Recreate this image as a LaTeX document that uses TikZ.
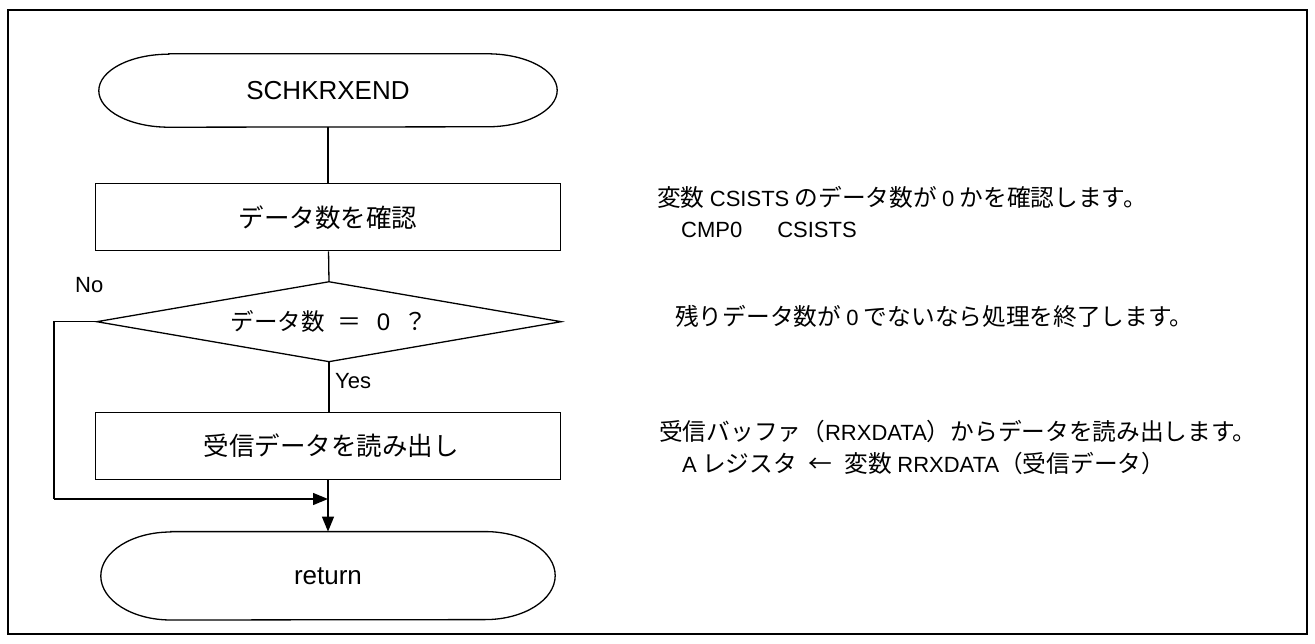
\documentclass[tikz,border=0pt]{standalone}
\usepackage{fontspec}
\setmainfont{Liberation Sans}
\newfontfamily\jp{Noto Sans CJK JP}
\newcommand\latn{\rmfamily\fontsize{22}{26}\selectfont}
\newcommand\jpn{\jp\fontsize{23.7}{28}\selectfont}
\usetikzlibrary{arrows.meta}
\newcommand\termpath[3]{%
  \draw[flowline] ([xshift=#2]#1.north west) -- ([xshift=-#2]#1.north east)
    arc[start angle=90,end angle=-90,x radius=#2pt,y radius=#3pt]
    -- ([xshift=#2]#1.south west)
    arc[start angle=270,end angle=90,x radius=#2pt,y radius=#3pt] -- cycle;}
\begin{document}
\begin{tikzpicture}[x=1pt,y=-1pt,
  flowline/.style={line width=1.3pt,draw=black},
  termbox/.style={inner sep=0pt,font=\fontsize{26}{30}\selectfont},
  procbox/.style={draw=black,line width=1.3pt,inner sep=0pt,minimum width=465pt,minimum height=67pt,font=\jp\fontsize{25.5}{30}\selectfont},
  decbox/.style={inner sep=0pt,minimum width=464pt,minimum height=79.5pt,font=\fontsize{24}{28}\selectfont},
  lbl/.style={inner sep=0pt,font=\fontsize{22}{26}\selectfont},
  note/.style={anchor=west,inner sep=0pt,font=\jpn},
  arr/.style={flowline,-{Triangle[length=15pt,width=12pt]}}]
\useasboundingbox (0,0) rectangle (1315,644);
\node[draw=black,line width=1.3pt,minimum width=1299pt,minimum height=624pt,inner sep=0pt] (frame) at (657.5,322) {};
% start terminal
\node[termbox,minimum width=458pt,minimum height=73pt] (start) at (328,90.5) {SCHKRXEND};
\termpath{start}{70}{36.5}
\node[procbox] (p1) at (328,217.3) {データ数を確認};
\node[decbox] (dec) at (329,321.7) {{\jp\fontsize{23.5}{28}\selectfont データ数}\hspace{13pt}{\jp ＝}\hspace{15pt}0\hspace{13pt}{\jp ？}};
\draw[flowline] (dec.north) -- (dec.east) -- (dec.south) -- (dec.west) -- cycle;
\node[procbox] (p2) at (328,445.8) {\hspace{6pt}受信データを読み出し};
\node[termbox,minimum width=454pt,minimum height=88pt] (ret) at (328,575.8) {return};
\termpath{ret}{70}{44}
% connectors
\draw[flowline] (start) -- (p1);
\draw[flowline] (p1) -- (dec.north);
\draw[flowline] (dec.south) -- (dec.south |- p2.north);
\coordinate (nA) at (54,321.7);
\coordinate (nB) at (54,499);
\coordinate (join) at (328,499);
\draw[flowline] (dec.west) -- (nA) -- (nB);
\draw[arr] (nB) -- (join);
\draw[arr] (p2) -- (ret);
\node[lbl,anchor=west] (no) at (75,285) {No};
\node[lbl,anchor=west] (yes) at (335,381) {Yes};
% notes
\node[note] (n1) at (657,197) {変数 {\latn CSISTS} のデータ数が {\latn 0} かを確認します。};
\node[note] (n2) at (681,230) {\latn CMP0\hspace{35pt}CSISTS};
\node[note] (n3) at (675,316) {残りデータ数が {\latn 0} でないなら処理を終了します。};
\node[note] (n4) at (659,431) {受信バッファ（{\latn RRXDATA}）からデータを読み出します。};
\node[note] (n5) at (682,463) {{\latn A} レジスタ\hspace{12pt}←\hspace{12pt}変数 {\latn RRXDATA}（受信データ）};
\end{tikzpicture}
\end{document}
